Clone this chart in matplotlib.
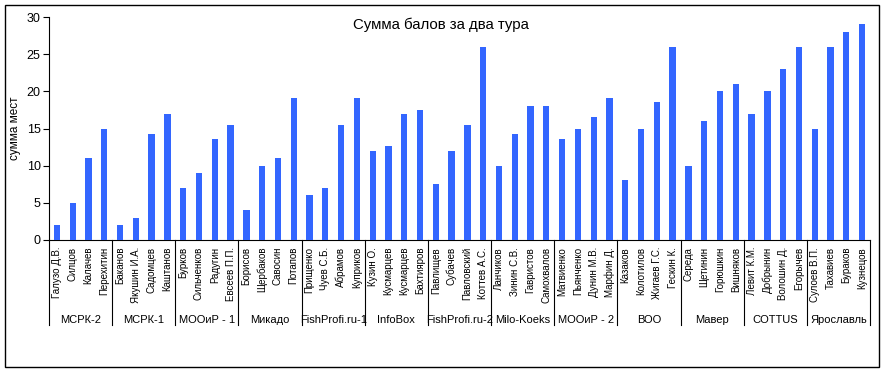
import matplotlib
matplotlib.use("Agg")
import matplotlib.pyplot as plt
import matplotlib.transforms as mtransforms
from matplotlib.patches import Rectangle

plt.rcParams['font.family'] = ['Liberation Sans', 'DejaVu Sans']

groups = ["МСРК-2", "МСРК-1", "МООиР - 1", "Микадо", "FishProfi.ru-1", "InfoBox",
          "FishProfi.ru-2", "Milo-Koeks", "МООиР - 2", "ВОО", "Мавер", "COTTUS", "Ярославль"]
names = [
    ["Галузо Д.В.", "Силцов", "Калачев", "Перехитин"],
    ["Баканов", "Якушин И.А.", "Садомцев", "Каштанов"],
    ["Бурков", "Сильченков", "Радугин", "Евсеев П.П."],
    ["Борисов", "Щербаков", "Савосин", "Потапов"],
    ["Прищенко", "Чуев С.Б.", "Абрамов", "Куприков"],
    ["Кузин О.", "Кусмарцев", "Кусмарцев", "Бахтияров"],
    ["Павлищев", "Субачев", "Павловский", "Коттев А.С."],
    ["Ланчиков", "Зинин С.В.", "Гавристов", "Самохвалов"],
    ["Матвиенко", "Пьянченко", "Дунин М.В.", "Марфин Д."],
    ["Казаков", "Колотилов", "Жигаев Г.С.", "Гескин К."],
    ["Середа", "Щетинин", "Горюшкин", "Вишняков"],
    ["Левит К.М.", "Добрынин", "Волошин Д.", "Егорычев"],
    ["Сулоев В.П.", "Тахавиев", "Бураков", "Кузнецов"],
]
values = [
    [2, 5, 11, 15],
    [2, 3, 14.2, 17],
    [7, 9, 13.6, 15.5],
    [4, 10, 11, 19.1],
    [6, 7, 15.5, 19.1],
    [12, 12.6, 17, 17.5],
    [7.6, 12, 15.5, 26],
    [10, 14.2, 18, 18],
    [13.6, 15, 16.6, 19.1],
    [8.1, 15, 18.6, 26],
    [10, 16, 20, 21],
    [17, 20, 23, 26],
    [15, 26, 28, 29],
]
title = "Сумма балов за два тура"
ylabel = "сумма мест"
yticks = [0, 5, 10, 15, 20, 25, 30]

W, H = 885, 372
fig = plt.figure(figsize=(W / 100, H / 100), dpi=100)
fig.patch.set_facecolor("white")

left, right, top, bottom = 49, 870, 17, 240
ax = fig.add_axes([left / W, 1 - bottom / H, (right - left) / W, (bottom - top) / H])

flat_names = [n for g in names for n in g]
flat_vals = [v for g in values for v in g]
x = list(range(len(flat_vals)))
ax.bar(x, flat_vals, width=0.4, color="#3366FF", zorder=3)

ax.set_xlim(-0.5, len(x) - 0.5)
ax.set_ylim(0, 30)
ax.set_yticks(yticks)
ax.tick_params(axis="y", length=4, width=0.8, labelsize=9, pad=2)
ax.set_xticks(x)
ax.set_xticklabels(flat_names, rotation=90, fontsize=7)
ax.tick_params(axis="x", length=0, pad=5)
for s in ["top", "right"]:
    ax.spines[s].set_visible(False)
ax.spines["left"].set_linewidth(0.8)
ax.spines["bottom"].set_linewidth(0.8)
ax.set_ylabel(ylabel, fontsize=8.5, labelpad=4)

fig.text(441 / W, 1 - 25 / H, title, ha="center", va="center", fontsize=10.8)

trans = mtransforms.blended_transform_factory(ax.transData, ax.transAxes)
sep_depth = -(325 - bottom) / (bottom - top)
label_y = -(320 - bottom) / (bottom - top)
n = len(groups)
for i in range(n + 1):
    xb = i * 4 - 0.5
    ax.plot([xb, xb], [0, sep_depth], transform=trans, color="black",
            linewidth=0.8, clip_on=False)
for i, g in enumerate(groups):
    ax.text(i * 4 + 1.5, label_y, g, transform=trans, ha="center", va="center",
            fontsize=8)

fig.patches.append(Rectangle((5 / W, 1 - 367 / H), (879 - 5) / W, (367 - 5) / H,
                             transform=fig.transFigure, fill=False,
                             edgecolor="black", linewidth=1))

fig.savefig("out.png", dpi=100)
